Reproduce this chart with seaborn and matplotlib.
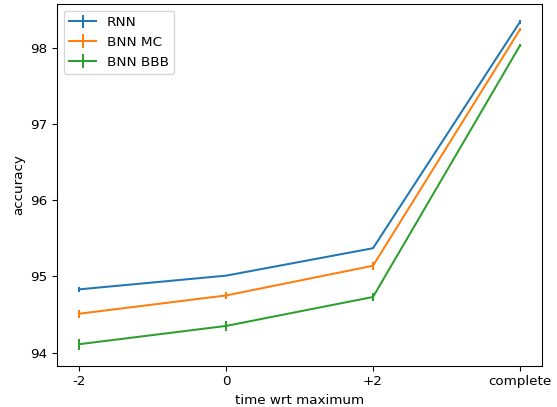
import matplotlib
matplotlib.use("Agg")
import matplotlib.pyplot as plt
import seaborn as sns
import numpy as np

categories = ["-2", "0", "+2", "complete"]
series_names = ["RNN", "BNN MC", "BNN BBB"]
rnn_acc = [94.83, 95.01, 95.37, 98.34]
rnn_err = [0.03, 0.01, 0.01, 0.02]
mc_acc = [94.51, 94.75, 95.14, 98.24]
mc_err = [0.05, 0.05, 0.05, 0.02]
bbb_acc = [94.11, 94.35, 94.73, 98.03]
bbb_err = [0.07, 0.06, 0.05, 0.02]

palette = sns.color_palette("tab10", 3)

DPI = 97
fig = plt.figure(figsize=(557/DPI, 407/DPI), dpi=DPI)
ax = fig.add_axes([57/557, 1-366/407, (542-57)/557, (366-4)/407])
x = np.arange(len(categories))
for name, acc, err, c in zip(series_names, [rnn_acc, mc_acc, bbb_acc],
                             [rnn_err, mc_err, bbb_err], palette):
    ax.errorbar(x, acc, yerr=err, color=c, label=name)
ax.set_xticks(x)
ax.set_xticklabels(categories)
ax.set_xlabel("time wrt maximum")
ax.set_ylabel("accuracy")
ax.legend(loc="upper left")
fig.savefig("out.png", dpi=DPI)
